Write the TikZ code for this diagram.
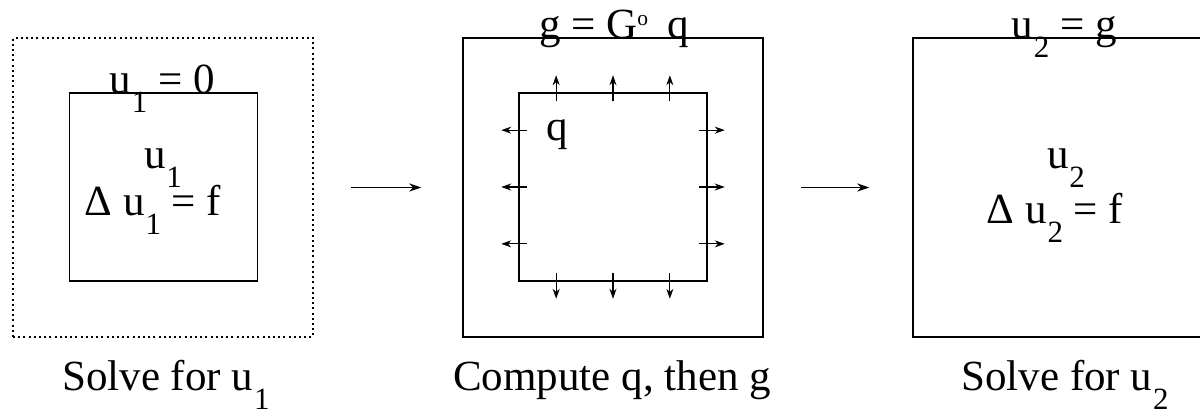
\documentclass[tikz,border=0pt]{standalone}
\usepackage{fontspec}
\setmainfont{Liberation Serif}
\usetikzlibrary{arrows.meta,calc}
\newcommand{\lowsub}[1]{\kern0.02em\raisebox{-0.46em}{\scalebox{0.72}{#1}}}
\tikzset{
  domainbox/.style={draw, line width=0.75pt, minimum width=150pt, minimum height=149.5pt, inner sep=0pt},
  dotbox/.style={domainbox, dash pattern=on 1pt off 1.6pt},
  subbox/.style={draw, line width=0.75pt, minimum width=94pt, minimum height=94pt, inner sep=0pt},
  eqtext/.style={font=\fontsize{21.5}{25}\selectfont, inner sep=0pt, anchor=base},
  captext/.style={font=\fontsize{21.5}{25}\selectfont, inner sep=0pt, anchor=base},
  stagearrow/.style={-{Stealth[length=6pt,width=4pt]}, line width=0.7pt},
  fluxarrow/.style={-{Stealth[length=5pt,width=3.5pt]}, line width=0.6pt}
}

\begin{document}
\begin{tikzpicture}[x=0.5pt,y=-0.5pt]
\useasboundingbox (0,0) rectangle (1200,413);
\clip (0,0) rectangle (1200,413);

% stage 1: solve on the subdomain
\node[dotbox] (dom1) at (163,187.5) {};
\node[subbox] (sub1) at (163.5,187) {};
\node[eqtext] (bc1) at (162,93) {u\lowsub{1} = 0};
\node[eqtext] (unk1) at (163,168) {u\lowsub{1}};
\node[eqtext] (pde1) at (153,215) {Δ u\lowsub{1} = f};
\node[captext] (cap1) at (166,390) {Solve for u\lowsub{1}};

% stage 2: flux through the boundary
\node[domainbox] (dom2) at (613,187.5) {};
\node[subbox] (sub2) at (613,187) {};
\node[eqtext] (bc2) at (614,38) {g = G\raisebox{0.3em}{\scalebox{0.5}{o}}\hspace{0.45em}q};
\node[eqtext] (flux) at (557,140) {q};
\foreach \t in {0.2,0.5,0.8} {
  \draw[fluxarrow] ($(sub2.north west)!\t!(sub2.north east)+(0,9)$) -- ++(0,-26);
  \draw[fluxarrow] ($(sub2.south west)!\t!(sub2.south east)+(0,-9)$) -- ++(0,26);
  \draw[fluxarrow] ($(sub2.north west)!\t!(sub2.south west)+(9,0)$) -- ++(-26,0);
  \draw[fluxarrow] ($(sub2.north east)!\t!(sub2.south east)+(-9,0)$) -- ++(26,0);
}
\node[captext] (cap2) at (612,390) {Compute q, then g};

% stage 3: solve on the full domain
\node[domainbox] (dom3) at (1063,187.5) {};
\node[eqtext] (bc3) at (1064,38) {u\lowsub{2} = g};
\node[eqtext] (unk3) at (1066,168) {u\lowsub{2}};
\node[eqtext] (pde3) at (1055,223) {Δ u\lowsub{2} = f};
\node[captext] (cap3) at (1065,390) {Solve for u\lowsub{2}};

\draw[stagearrow] ([xshift=18.5pt]dom1.east) -- ([xshift=-20.5pt]dom2.west);
\draw[stagearrow] ([xshift=18.5pt]dom2.east) -- ([xshift=-21.5pt]dom3.west);
\end{tikzpicture}
\end{document}
